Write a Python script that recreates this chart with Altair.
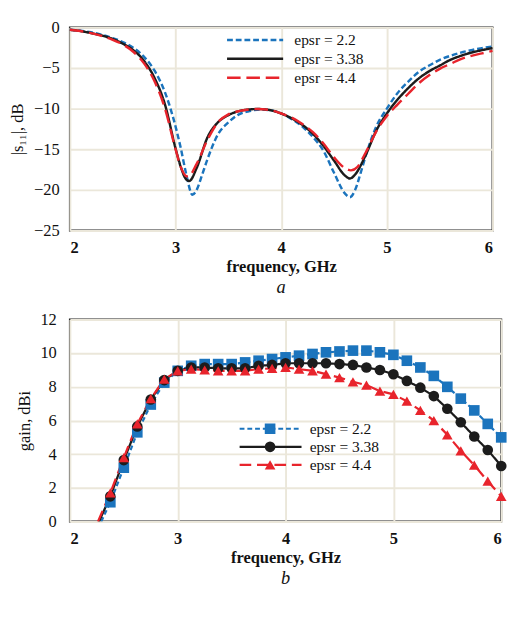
import altair as alt
import pandas as pd

SERIES = ["epsr = 2.2", "epsr = 3.38", "epsr = 4.4"]
MARKS = ["m2.2", "m3.38", "m4.4"]
COLORS = ["#1b74bd", "#1c1c1c", "#e8242c"]
DASHES = [[6, 3], [1, 0], [14, 6]]
SHAPES = ["square", "circle", "triangle-up"]
FONT = "Liberation Serif"

# ---- panel a: |s11| ----
f_22 = [2.0, 2.1, 2.2, 2.3, 2.4, 2.5, 2.6, 2.7, 2.8, 2.9, 3.0, 3.05, 3.1, 3.16, 3.2, 3.25, 3.3,
        3.4, 3.5, 3.6, 3.7, 3.8, 3.9, 4.0, 4.1, 4.2, 4.3, 4.4, 4.5, 4.6, 4.65, 4.7, 4.75, 4.8,
        4.9, 5.0, 5.1, 5.2, 5.3, 5.4, 5.5, 5.6, 5.7, 5.8, 5.9, 6.0]
s_22 = [-0.3, -0.4, -0.6, -0.9, -1.3, -1.8, -2.5, -3.6, -5.3, -8.0, -12.2, -14.9, -18.0, -20.6,
        -20.0, -18.2, -16.3, -13.2, -11.7, -10.7, -10.3, -10.1, -10.2, -10.6, -11.3, -12.2,
        -13.5, -15.2, -17.9, -20.4, -20.9, -20.0, -18.0, -15.8, -12.2, -10.0, -8.1, -6.7,
        -5.5, -4.7, -4.0, -3.5, -3.1, -2.8, -2.55, -2.35]

f_338 = [2.0, 2.1, 2.2, 2.3, 2.4, 2.5, 2.6, 2.7, 2.8, 2.9, 3.0, 3.05, 3.1, 3.13, 3.2, 3.3, 3.4,
         3.5, 3.6, 3.7, 3.78, 3.9, 4.0, 4.1, 4.2, 4.3, 4.4, 4.5, 4.6, 4.65, 4.7, 4.8, 4.9, 5.0,
         5.1, 5.2, 5.3, 5.4, 5.5, 5.6, 5.7, 5.8, 5.9, 6.0]
s_338 = [-0.3, -0.45, -0.7, -1.0, -1.4, -2.0, -2.8, -4.1, -6.2, -9.5, -14.9, -17.2, -18.7, -18.9,
         -17.3, -13.6, -11.7, -10.8, -10.3, -10.1, -10.05, -10.2, -10.6, -11.2, -12.0, -13.1,
         -14.6, -16.4, -18.2, -18.6, -18.1, -15.7, -12.7, -10.6, -8.9, -7.5, -6.3, -5.4, -4.7,
         -4.0, -3.5, -3.1, -2.8, -2.55]

f_44 = [2.0, 2.1, 2.2, 2.3, 2.4, 2.5, 2.6, 2.7, 2.8, 2.9, 3.0, 3.05, 3.1, 3.12, 3.2, 3.3, 3.4,
        3.5, 3.6, 3.7, 3.78, 3.9, 4.0, 4.1, 4.2, 4.3, 4.4, 4.5, 4.6, 4.66, 4.72, 4.8, 4.9, 5.0,
        5.1, 5.2, 5.3, 5.4, 5.5, 5.6, 5.7, 5.8, 5.9, 6.0]
s_44 = [-0.3, -0.45, -0.7, -1.05, -1.5, -2.1, -3.0, -4.4, -6.6, -10.0, -15.0, -17.2, -18.3,
        -18.35, -16.8, -13.9, -11.7, -10.7, -10.3, -10.1, -10.05, -10.2, -10.6, -11.1, -11.9,
        -12.9, -14.3, -16.0, -17.3, -17.6, -17.2, -15.4, -12.8, -10.9, -9.5, -8.2, -6.9, -5.9,
        -5.1, -4.5, -3.9, -3.5, -3.2, -2.9]

# ---- panel b: gain ----
g_freq = [2.375, 2.5, 2.625, 2.75, 2.875, 3.0, 3.125, 3.25, 3.375, 3.5, 3.625, 3.75, 3.875,
          4.0, 4.125, 4.25, 4.375, 4.5, 4.625, 4.75, 4.875, 5.0, 5.125, 5.25, 5.375, 5.5,
          5.625, 5.75, 5.875, 6.0]
g_22 = [1.15, 3.2, 5.3, 6.95, 8.25, 8.95, 9.25, 9.35, 9.35, 9.35, 9.45, 9.55, 9.65, 9.75, 9.85,
        9.95, 10.05, 10.1, 10.15, 10.15, 10.05, 9.9, 9.55, 9.15, 8.65, 8.0, 7.3, 6.6, 5.8, 5.0]
g_338 = [1.5, 3.65, 5.65, 7.25, 8.4, 8.95, 9.15, 9.15, 9.1, 9.1, 9.1, 9.25, 9.3, 9.4, 9.4, 9.4,
         9.4, 9.35, 9.3, 9.15, 9.0, 8.75, 8.35, 7.95, 7.45, 6.7, 5.9, 5.05, 4.25, 3.3]
g_44 = [1.7, 3.8, 5.8, 7.3, 8.45, 8.95, 9.05, 9.0, 8.95, 8.95, 8.95, 9.05, 9.1, 9.15, 9.05,
        8.95, 8.75, 8.55, 8.3, 8.1, 7.75, 7.55, 7.15, 6.6, 6.0, 5.15, 4.2, 3.35, 2.4, 1.5]
# where each gain curve leaves the 0 dBi line (no marker there)
g_start_f = [2.29, 2.27, 2.26]
g_start_v = [0.0, 0.0, 0.0]

# ---- tables ----
top_rows = []
for name, fs, vs in zip(SERIES, [f_22, f_338, f_44], [s_22, s_338, s_44]):
    for f, v in zip(fs, vs):
        top_rows.append({"f": f, "v": v, "s": name})
top_df = pd.DataFrame(top_rows)

line_rows, pt_rows = [], []
for name, mk, gs, sf, sv in zip(SERIES, MARKS, [g_22, g_338, g_44], g_start_f, g_start_v):
    line_rows.append({"f": sf, "v": sv, "s": name})
    for f, v in zip(g_freq, gs):
        line_rows.append({"f": f, "v": v, "s": name})
        pt_rows.append({"f": f, "v": v, "m": mk})
line_df = pd.DataFrame(line_rows)
pt_df = pd.DataFrame(pt_rows)

label_common = dict(labelFont=FONT, labelFontSize=17, labelColor="#111", titleFont=FONT,
                    titleColor="#111", ticks=False, domain=False, gridColor="#ebe7da",
                    gridWidth=2)


def x_axis():
    return alt.Axis(values=[2, 3, 4, 5, 6], title="frequency, GHz", titleFontSize=17,
                    titleFontWeight="bold", labelFontWeight="bold", labelPadding=10,
                    titlePadding=3, **label_common)


def caption(t):
    return alt.TitleParams(t, orient="bottom", font=FONT, fontSize=19, fontStyle="italic",
                           fontWeight="normal", color="#111", offset=5)


leg_top = alt.Legend(orient="none", legendX=161, legendY=5, title=None, symbolType="stroke",
                     symbolSize=58 * 58, symbolStrokeWidth=2.5, clipHeight=16, rowPadding=3.5,
                     labelFont=FONT, labelFontSize=16, labelColor="#111", labelOffset=10,
                     padding=0)

top = alt.Chart(top_df).mark_line(interpolate="monotone", strokeWidth=2.5).encode(
    x=alt.X("f:Q", scale=alt.Scale(domain=[2, 6], nice=False), axis=x_axis()),
    y=alt.Y("v:Q", scale=alt.Scale(domain=[-25, 0], nice=False),
            axis=alt.Axis(values=[0, -5, -10, -15, -20, -25], title="|s\u2081\u2081|, dB",
                          titleFontSize=17, titleFontWeight="normal", titlePadding=7,
                          labelPadding=11, **label_common)),
    color=alt.Color("s:N", scale=alt.Scale(domain=SERIES, range=COLORS), legend=leg_top),
    strokeDash=alt.StrokeDash("s:N", scale=alt.Scale(domain=SERIES, range=DASHES),
                              legend=leg_top),
).properties(width=437, height=210, title=caption("a"))

leg_line = alt.Legend(orient="none", legendX=174, legendY=105, title=None, symbolType="stroke",
                      symbolSize=64 * 64, symbolStrokeWidth=2.3, clipHeight=16, rowPadding=2.7,
                      labelFont=FONT, labelFontSize=16, labelColor="#111", labelOffset=7,
                      padding=0)
leg_mark = alt.Legend(orient="none", legendX=200.5, legendY=105, title=None, symbolSize=121,
                      clipHeight=16, rowPadding=2.7, labelExpr="''", padding=0)

xb = alt.X("f:Q", scale=alt.Scale(domain=[2, 6], nice=False), axis=x_axis())
yb = alt.Y("v:Q", scale=alt.Scale(domain=[0, 12], nice=False),
           axis=alt.Axis(values=[0, 2, 4, 6, 8, 10, 12], title="gain, dBi", titleFontSize=17,
                         titleFontWeight="normal", titlePadding=7, labelPadding=14,
                         **label_common))

b_lines = alt.Chart(line_df).mark_line(strokeWidth=2.3, clip=True).encode(
    x=xb, y=yb,
    color=alt.Color("s:N", scale=alt.Scale(domain=SERIES, range=COLORS), legend=leg_line),
    strokeDash=alt.StrokeDash("s:N",
                              scale=alt.Scale(domain=SERIES, range=[[5, 3], [1, 0], [12, 6]]),
                              legend=leg_line),
)
b_pts = alt.Chart(pt_df).mark_point(filled=True, size=121, opacity=1).encode(
    x=xb, y=yb,
    fill=alt.Fill("m:N", scale=alt.Scale(domain=MARKS, range=COLORS), legend=leg_mark),
    shape=alt.Shape("m:N", scale=alt.Scale(domain=MARKS, range=SHAPES), legend=leg_mark),
)
bottom = alt.layer(b_lines, b_pts).properties(width=446, height=209, title=caption("b"))

chart = alt.vconcat(top, bottom, spacing=12).resolve_scale(
    color="independent", strokeDash="independent", fill="independent", shape="independent"
).resolve_legend(
    color="independent", strokeDash="independent", fill="independent", shape="independent"
).properties(
    padding={"left": 0, "top": 0, "right": 0, "bottom": 0}
).configure_view(stroke="#222", strokeWidth=2)

chart.save("out.html", embed_options={"renderer": "svg", "actions": False})
